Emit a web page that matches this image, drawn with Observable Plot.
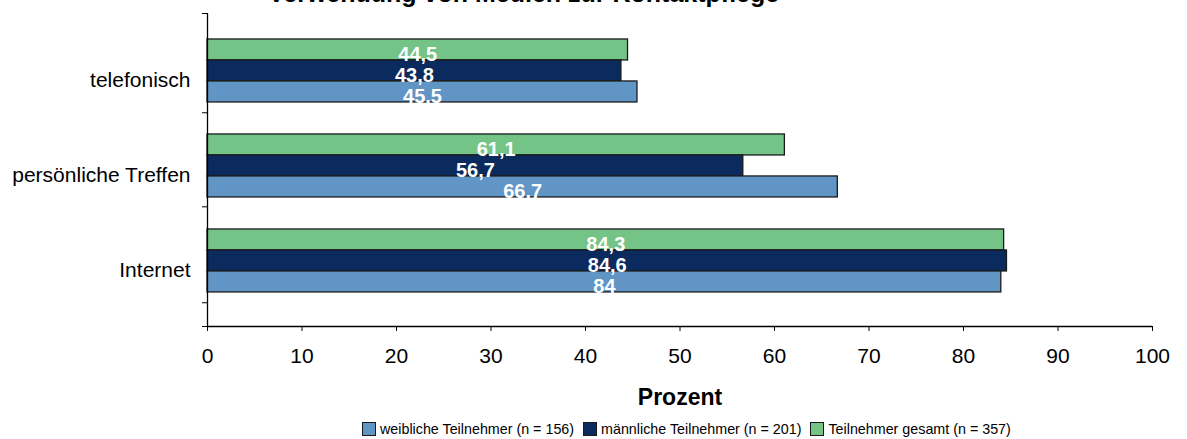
<!DOCTYPE html>
<html>
<head>
<meta charset="utf-8">
<script src="https://cdn.jsdelivr.net/npm/d3@7"></script>
<script src="https://cdn.jsdelivr.net/npm/@observablehq/plot@0.6"></script>
<style>
  html, body { margin: 0; padding: 0; background: #fff; width: 1187px; height: 439px; overflow: hidden; position: relative; font-family: "Liberation Sans", Arial, sans-serif; }
  #title { position: absolute; left: 268px; top: -19px; font-size: 25px; line-height: 25px; font-weight: bold; white-space: nowrap; color: #000; }
  #legend { display: flex; align-items: center; margin-left: 362px; margin-top: 11px; font-size: 14.3px; color: #000; white-space: nowrap; }
  .item { display: flex; align-items: center; margin-right: 9px; }
  .sw { width: 12px; height: 12px; border: 1px solid #1a1a1a; margin-right: 4px; }
</style>
</head>
<body>
<div id="title">Verwendung von Medien zur Kontaktpflege</div>
<div id="chart"></div>
<div id="legend"></div>
<script>
// Data
const categories = ["telefonisch", "persönliche Treffen", "Internet"];
const series = ["Teilnehmer gesamt (n = 357)", "männliche Teilnehmer (n = 201)", "weibliche Teilnehmer (n = 156)"];
const gesamt   = [44.5, 61.1, 84.3];
const maennlich = [43.8, 56.7, 84.6];
const weiblich = [45.5, 66.7, 84];
const xTicks = [0, 10, 20, 30, 40, 50, 60, 70, 80, 90, 100];
const legendOrder = [2, 1, 0];

const colors = ["#74c487", "#0b2b5f", "#6195c5"];
const valuesBySeries = [gesamt, maennlich, weiblich];

const rows = [];
categories.forEach((c, i) => {
  valuesBySeries.forEach((vals, j) => {
    rows.push({cat: c, ci: i, series: series[j], sj: j, value: vals[i]});
  });
});

const barUnit = 0.221;        // bar thickness in category units
const yDomain = [-0.605, 2.69];
const yTickMarks = [-0.605, 0.44, 1.43, 2.44, 2.69];

const fmt = v => String(v).replace(".", ",");

const chart = Plot.plot({
  width: 1187,
  height: 410,
  marginLeft: 207,
  marginRight: 35,
  marginTop: 13,
  marginBottom: 84,
  style: { fontFamily: "'Liberation Sans', Arial, sans-serif", fontSize: "21px", color: "#000", background: "#fff", overflow: "visible" },
  x: { domain: [0, 100], label: null },
  y: { domain: yDomain, reverse: true, label: null },
  color: { domain: series, range: colors },
  marks: [
    Plot.rect(rows, {
      x1: () => 0,
      x2: "value",
      y1: d => d.ci + (d.sj - 1.5) * barUnit,
      y2: d => d.ci + (d.sj - 0.5) * barUnit,
      fill: "series",
      stroke: "#1a1a1a",
      strokeWidth: 1.3
    }),
    Plot.text(rows, {
      x: d => d.value / 2,
      y: d => d.ci + (d.sj - 1) * barUnit,
      text: d => fmt(d.value),
      fill: "#fff",
      fontWeight: "bold",
      fontSize: 20,
      dy: 5
    }),
    Plot.ruleX([0], {stroke: "#000", strokeWidth: 1.3}),
    Plot.ruleY([yDomain[1]], {stroke: "#000", strokeWidth: 1.3}),
    Plot.axisX({ticks: xTicks, tickSize: 5, tickPadding: 17, tickFormat: d => String(d), fontSize: 21, stroke: "#000", label: null}),
    Plot.axisY({ticks: yTickMarks, tickSize: 5, tickFormat: () => "", stroke: "#000", label: null}),
    Plot.axisY({ticks: [0, 1, 2], tickSize: 0, tickPadding: 17, tickFormat: i => categories[i], fontSize: 21, dy: 9, label: null}),
    Plot.text(["Prozent"], {frameAnchor: "bottom", dy: 78, fontWeight: "bold", fontSize: 23})
  ]
});
document.getElementById("chart").appendChild(chart);

const legend = document.getElementById("legend");
legendOrder.forEach(j => {
  const item = document.createElement("div");
  item.className = "item";
  const sw = document.createElement("div");
  sw.className = "sw";
  sw.style.background = colors[j];
  const t = document.createElement("span");
  t.textContent = series[j];
  item.appendChild(sw);
  item.appendChild(t);
  legend.appendChild(item);
});
</script>
</body>
</html>
